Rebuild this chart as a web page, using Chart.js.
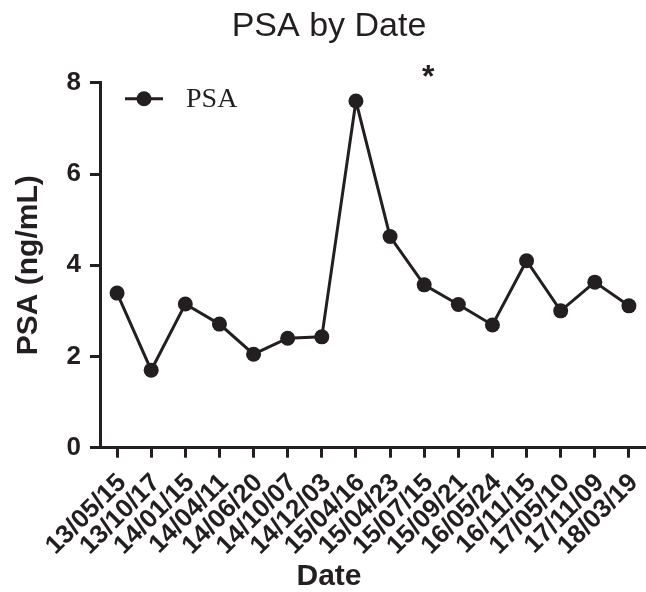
<!DOCTYPE html>
<html>
<head>
<meta charset="utf-8">
<script src="https://cdn.jsdelivr.net/npm/chart.js@4"></script>
<style>
  html, body { margin: 0; padding: 0; background: #ffffff; }
  #wrap { width: 646px; height: 592px; }
</style>
</head>
<body>
<div id="wrap"><canvas id="c" width="646" height="592"></canvas></div>
<script>
const dates = ['13/05/15','13/10/17','14/01/15','14/04/11','14/06/20','14/10/07','14/12/03','15/04/16','15/04/23','15/07/15','15/09/21','16/05/24','16/11/15','17/05/10','17/11/09','18/03/19'];
const psaValues = [3.39, 1.70, 3.15, 2.71, 2.05, 2.40, 2.43, 7.60, 4.63, 3.57, 3.14, 2.69, 4.10, 3.00, 3.63, 3.11];
const yTicks = [0, 2, 4, 6, 8];
const markerIndex = [9];
const markerText = ['*'];

const INK = '#231f20';
const SANS = '"Liberation Sans", Arial, Helvetica, sans-serif';
const SERIF = '"Liberation Serif", "Times New Roman", serif';

const extras = {
  id: 'extras',
  afterDatasetsDraw(chart) {
    const { ctx, chartArea, scales } = chart;
    ctx.save();
    ctx.fillStyle = INK;
    ctx.font = 'bold 32px ' + SANS;
    ctx.textAlign = 'center';
    ctx.textBaseline = 'alphabetic';
    markerIndex.forEach((idx, i) => {
      const x = scales.x.getPixelForValue(idx) + 4;
      const y = scales.y.getPixelForValue(7.9);
      ctx.fillText(markerText[i], x, y);
    });
    const lx = chartArea.left + 25;
    const ly = chartArea.top + 16;
    ctx.strokeStyle = INK;
    ctx.lineWidth = 3;
    ctx.beginPath();
    ctx.moveTo(lx, ly);
    ctx.lineTo(lx + 38, ly);
    ctx.stroke();
    ctx.beginPath();
    ctx.arc(lx + 19, ly, 7.5, 0, Math.PI * 2);
    ctx.fill();
    ctx.font = '28px ' + SERIF;
    ctx.textAlign = 'left';
    ctx.textBaseline = 'middle';
    ctx.fillText(chart.data.datasets[0].label, lx + 61, ly + 1);
    ctx.restore();
  }
};

new Chart(document.getElementById('c'), {
  type: 'line',
  data: {
    labels: dates,
    datasets: [{
      label: 'PSA',
      data: psaValues,
      borderColor: INK,
      backgroundColor: INK,
      borderWidth: 3,
      pointRadius: 7.5,
      pointHoverRadius: 7.5,
      pointBorderWidth: 0,
      pointBackgroundColor: INK,
      tension: 0,
      fill: false,
      clip: false
    }]
  },
  options: {
    responsive: false,
    animation: false,
    devicePixelRatio: 1,
    layout: { autoPadding: false, padding: { left: 12, right: 0, top: 0, bottom: 0 } },
    plugins: {
      legend: { display: false },
      tooltip: { enabled: false },
      title: {
        display: true,
        text: 'PSA by Date',
        color: INK,
        font: { family: SANS, size: 34, weight: 'normal', lineHeight: 1.2 },
        padding: { top: 6, bottom: 36 }
      },
      subtitle: {
        display: true,
        position: 'bottom',
        text: 'Date',
        color: INK,
        font: { family: SANS, size: 30, weight: 'bold', lineHeight: 1 },
        padding: { top: 0, bottom: 0 }
      }
    },
    scales: {
      x: {
        type: 'category',
        offset: true,
        afterFit(scale) { scale.height = 114.3; scale.paddingLeft = 0; scale.paddingRight = 0; },
        grid: {
          display: true,
          drawOnChartArea: false,
          drawTicks: true,
          tickLength: 10,
          lineWidth: 3,
          color: INK,
          tickColor: INK
        },
        border: { display: true, color: INK, width: 3 },
        ticks: {
          autoSkip: false,
          minRotation: 45,
          maxRotation: 45,
          padding: 10,
          labelOffset: 5,
          color: INK,
          font: { family: SANS, size: 26, weight: 'bold' }
        }
      },
      y: {
        min: 0,
        max: 8,
        afterFit(scale) { scale.width = 88; },
        afterBuildTicks(scale) { scale.ticks = yTicks.map(v => ({ value: v })); },
        grid: {
          display: true,
          drawOnChartArea: false,
          drawTicks: true,
          tickLength: 10,
          lineWidth: 3,
          color: INK,
          tickColor: INK
        },
        border: { display: true, color: INK, width: 3 },
        ticks: {
          padding: 9,
          color: INK,
          font: { family: SANS, size: 26, weight: 'bold' }
        },
        title: {
          display: true,
          text: 'PSA (ng/mL)',
          color: INK,
          font: { family: SANS, size: 30, weight: 'bold', lineHeight: 1 },
          padding: { top: 1.5, bottom: 0 }
        }
      }
    }
  },
  plugins: [extras]
});
</script>
</body>
</html>
